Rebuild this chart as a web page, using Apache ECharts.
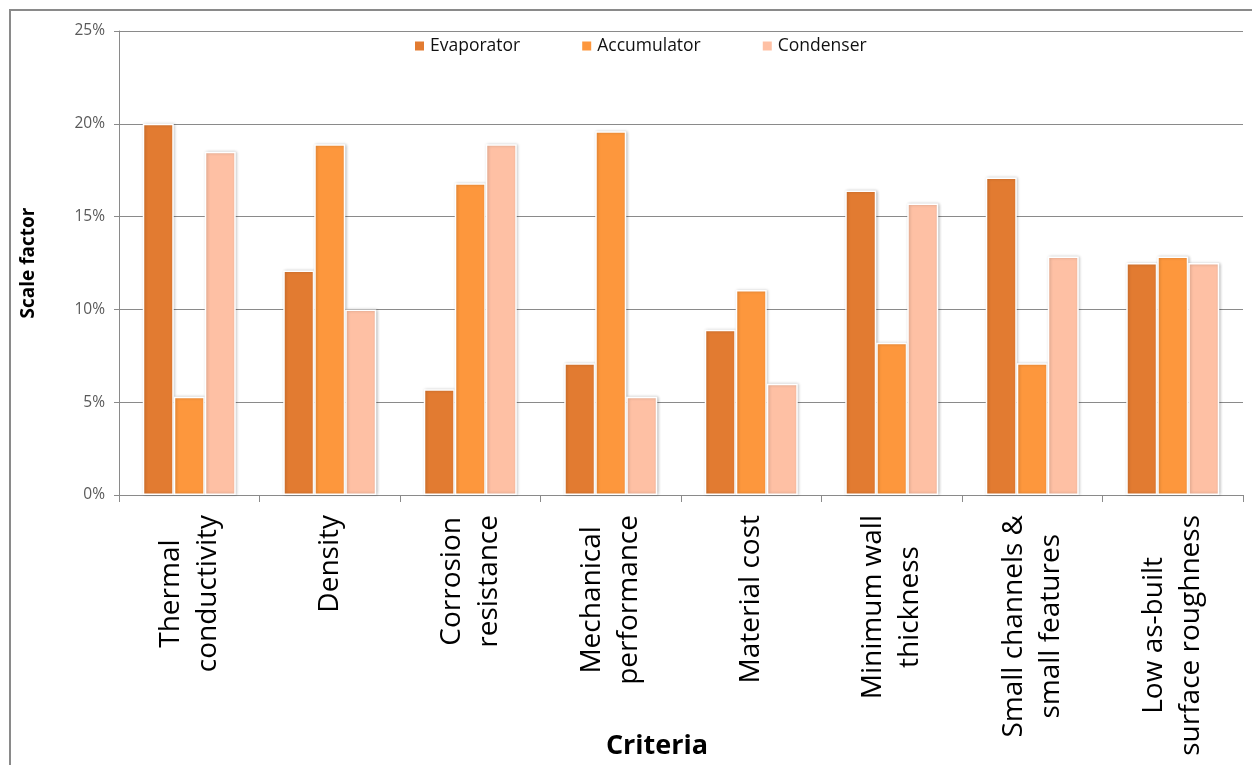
<!DOCTYPE html>
<html>
<head>
<meta charset="utf-8">
<script src="https://cdn.jsdelivr.net/npm/echarts@6/dist/echarts.min.js"></script>
<style>
  html, body { margin: 0; padding: 0; background: #fff; }
  #chart { width: 1252px; height: 765px; }
</style>
</head>
<body>
<div id="chart"></div>
<script>
// Scale factor (%) of each design criterion per heat-pipe component
const categories = [
  'Thermal\nconductivity',
  'Density',
  'Corrosion\nresistance',
  'Mechanical\nperformance',
  'Material cost',
  'Minimum wall\nthickness',
  'Small channels &\nsmall features',
  'Low as-built\nsurface roughness'
];
const evaporator  = [20.0, 12.1, 5.7, 7.1, 8.9, 16.4, 17.1, 12.5];
const accumulator = [5.3, 18.9, 16.8, 19.6, 11.05, 8.2, 7.1, 12.85];
const condenser   = [18.5, 10.0, 18.9, 5.3, 6.0, 15.7, 12.85, 12.5];
const seriesNames = ['Evaporator', 'Accumulator', 'Condenser'];
const colors = ['#E27B31', '#FD973D', '#FEC0A4'];

const font = '"Open Sans", "Noto Sans", sans-serif';

function barSeries(name, data, color) {
  return {
    name: name,
    type: 'bar',
    data: data,
    barWidth: 31,
    barGap: '0%',
    itemStyle: {
      color: color,
      borderColor: '#ffffff',
      borderWidth: 1.5,
      shadowBlur: 3,
      shadowOffsetX: 1,
      shadowColor: 'rgba(0,0,0,0.22)'
    }
  };
}

const chart = echarts.init(document.getElementById('chart'), null, { renderer: 'canvas' });
chart.setOption({
  animation: false,
  backgroundColor: '#ffffff',
  color: colors,
  graphic: [{
    type: 'rect',
    shape: { x: 10, y: 10, width: 1300, height: 800 },
    style: { fill: 'none', stroke: '#8a8a8a', lineWidth: 2 },
    silent: true,
    z: -10
  }],
  legend: {
    data: seriesNames,
    left: 408,
    top: 32,
    icon: 'rect',
    itemWidth: 11,
    itemHeight: 11,
    itemGap: 60,
    textStyle: { fontFamily: font, fontSize: 17.5, color: '#111' }
  },
  grid: {
    left: 119, top: 31, right: 9, bottom: 270,
    containLabel: false,
    outerBoundsMode: 'none'
  },
  xAxis: {
    type: 'category',
    data: categories,
    name: 'Criteria',
    nameLocation: 'middle',
    nameGap: 238,
    nameMoveOverlap: false,
    nameTextStyle: {
      fontFamily: font, fontSize: 27, fontWeight: 'bold', color: '#000',
      padding: [0, 48, 0, 0]
    },
    axisLine: { show: true, lineStyle: { color: '#8a8a8a', width: 1 } },
    axisTick: { show: true, length: 7, lineStyle: { color: '#8a8a8a' } },
    axisLabel: {
      interval: 0,
      rotate: 90,
      margin: 20,
      color: '#000',
      fontFamily: font,
      fontSize: 28,
      lineHeight: 37,
      formatter: function (v) {
        return v.split('\n').map(function (s) { return '{c|' + s + '}'; }).join('\n');
      },
      rich: {
        c: { align: 'center', fontFamily: font, fontSize: 28, lineHeight: 37, color: '#000' }
      }
    }
  },
  yAxis: {
    type: 'value',
    min: 0,
    max: 25,
    interval: 5,
    name: 'Scale factor',
    nameLocation: 'middle',
    nameGap: 81,
    nameMoveOverlap: false,
    nameTextStyle: { fontFamily: font, fontSize: 19, fontWeight: 'bold', color: '#000' },
    axisLine: { show: true, lineStyle: { color: '#8a8a8a', width: 1 } },
    axisTick: { show: true, length: 5, lineStyle: { color: '#8a8a8a' } },
    axisLabel: {
      formatter: '{value}%',
      margin: 14,
      color: '#595959',
      fontFamily: font,
      fontSize: 15.5
    },
    splitLine: { show: true, lineStyle: { color: '#8a8a8a', width: 1 } }
  },
  series: [
    barSeries(seriesNames[0], evaporator, colors[0]),
    barSeries(seriesNames[1], accumulator, colors[1]),
    barSeries(seriesNames[2], condenser, colors[2])
  ]
});
</script>
</body>
</html>
